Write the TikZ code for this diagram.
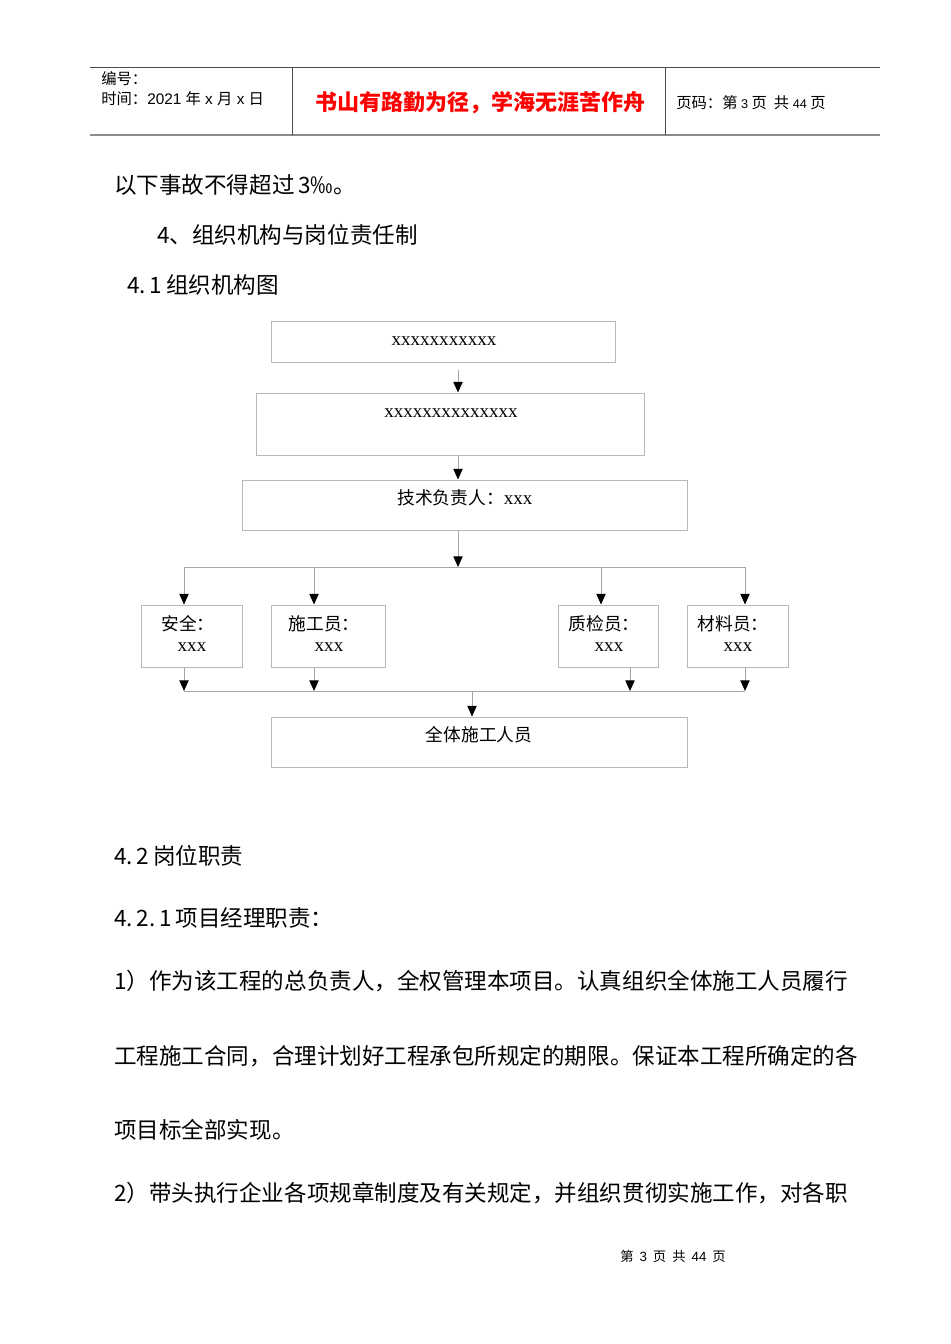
\documentclass[tikz,border=0pt]{standalone}
\usepackage{fontspec}
\setmainfont{Noto Sans CJK SC}
\newfontfamily\lser{Liberation Serif}
\newfontfamily\lsans{Liberation Sans}
\usetikzlibrary{arrows.meta,fit}
\begin{document}
\begin{tikzpicture}[x=0.75pt,y=-0.75pt,
  box/.style={draw=black!28, line width=0.75pt, inner sep=0pt},
  conn/.style={draw=black!35, line width=0.75pt},
  arr/.style={conn, -{Triangle[black,length=8pt,width=7pt]}},
  body/.style={anchor=west, inner sep=0pt, font=\fontsize{16.9}{17}\selectfont},
  ctext/.style={inner sep=0pt, font=\fontsize{13.3}{14}\selectfont},
  xs/.style={inner sep=0pt, font=\fontsize{14.3}{14}\lser},
  head/.style={anchor=west, inner sep=0pt, font=\fontsize{11.5}{12}\selectfont}
]
\useasboundingbox[fill=white] (0,0) rectangle (950,1344);

% header
\draw[black!70, line width=0.75pt] (90,68) -- (880,68);
\draw[black!45, line width=1.5pt] (90,135) -- (880,135);
\draw[black!70, line width=0.75pt] (292,68) -- (292,135);
\draw[black!70, line width=0.75pt] (665,68) -- (665,135);
\node[head] (hno) at (101,79) {编号：};
\node[head] (htime) at (101,99) {时间：{\lsans 2021 }年{\lsans\ x }月{\lsans\ x }日};
\node[inner sep=0pt, text=red, font=\fontsize{16.5}{17}\selectfont\bfseries] (motto) at (480,103) {书山有路勤为径，学海无涯苦作舟};
\node[head] (hpage) at (676,103) {页码：第{\lsans\fontsize{9.5}{9}\selectfont\ 3 }页\ \ 共{\lsans\fontsize{9.5}{9}\selectfont\ 44 }页};

% body text
\node[body] (t1) at (114,185) {以下事故不得超过\,3‰。};
\node[body] (t2) at (157,235) {4、组织机构与岗位责任制};
\node[body] (t3) at (127,285) {4.\,1\,组织机构图};

% chart boxes
\node[box, fit={(271,321) (615,362)}] (b1) {};
\node[xs] (b1t) at (444,341) {xxxxxxxxxxx};
\node[box, fit={(256,393) (644,455)}] (b2) {};
\node[xs] (b2t) at (451,413) {xxxxxxxxxxxxxx};
\node[box, fit={(242,480) (687,530)}] (b3) {};
\node[ctext] (b3t) at (465,498) {技术负责人：{\fontsize{14.3}{14}\lser xxx}};

\node[box, fit={(141,605) (242,667)}] (s1) {};
\node[ctext] (s1a) at (188,624) {安全：};
\node[xs] (s1b) at (192,647) {xxx};
\node[box, fit={(271,605) (385,667)}] (s2) {};
\node[ctext] (s2a) at (324,624) {施工员：};
\node[xs] (s2b) at (329,647) {xxx};
\node[box, fit={(558,605) (658,667)}] (s3) {};
\node[ctext] (s3a) at (604,624) {质检员：};
\node[xs] (s3b) at (609,647) {xxx};
\node[box, fit={(687,605) (788,667)}] (s4) {};
\node[ctext] (s4a) at (733,624) {材料员：};
\node[xs] (s4b) at (738,647) {xxx};

\node[box, fit={(271,717) (687,767)}] (b4) {};
\node[ctext] (b4t) at (479,735) {全体施工人员};

% connectors
\draw[arr] (458,0 |- b1.south) ++(0,7) -- (458,0 |- b2.north);
\draw[arr] (458,0 |- b2.south) -- (458,0 |- b3.north);
\coordinate (hubA) at (458,567);
\draw[arr] (458,0 |- b3.south) -- (hubA);
\coordinate (hubAL) at (184,567);
\coordinate (hubAR) at (745,567);
\draw[conn] (hubAL) -- (hubAR);
\draw[arr] (hubAL) -- (184,0 |- s1.north);
\draw[arr] (314,567) -- (314,0 |- s2.north);
\draw[arr] (601,567) -- (601,0 |- s3.north);
\draw[arr] (hubAR) -- (745,0 |- s4.north);

\coordinate (hubBL) at (184,691);
\coordinate (hubBR) at (745,691);
\draw[arr] (184,0 |- s1.south) -- (hubBL);
\draw[arr] (314,0 |- s2.south) -- (314,691);
\draw[arr] (630,0 |- s3.south) -- (630,691);
\draw[arr] (745,0 |- s4.south) -- (hubBR);
\draw[conn] (hubBL) -- (hubBR);
\draw[arr] (472,691) -- (472,0 |- b4.north);

% body text continued
\node[body] (t4) at (114,856) {4.\,2\,岗位职责};
\node[body] (t5) at (114,918) {4.\,2.\,1\,项目经理职责：};
\node[body] (t6) at (114,981) {1）作为该工程的总负责人，全权管理本项目。认真组织全体施工人员履行};
\node[body] (t7) at (114,1056) {工程施工合同，合理计划好工程承包所规定的期限。保证本工程所确定的各};
\node[body] (t8) at (114,1130) {项目标全部实现。};
\node[body] (t9) at (114,1193) {2）带头执行企业各项规章制度及有关规定，并组织贯彻实施工作，对各职};

% footer
\node[inner sep=0pt, font=\fontsize{10}{10}\selectfont] (foot) at (673,1256) {第\ \ {\lsans 3}\ \ 页\ \ 共\ \ {\lsans 44}\ \ 页};
\end{tikzpicture}
\end{document}
